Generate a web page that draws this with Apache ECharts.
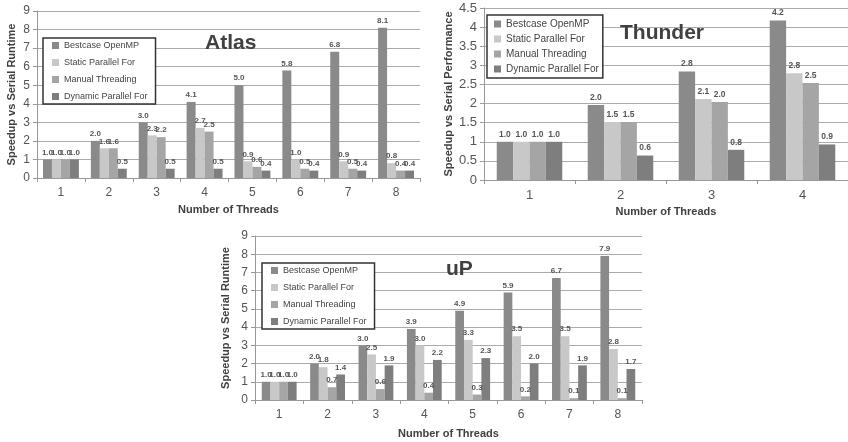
<!DOCTYPE html>
<html>
<head>
<meta charset="utf-8">
<script src="https://cdn.jsdelivr.net/npm/echarts@6/dist/echarts.min.js"></script>
<style>
html,body{margin:0;padding:0;background:#fff;}
#c{width:848px;height:442px;}
</style>
</head>
<body>
<div id="c"></div>
<script>
// ---- Data ----
const seriesNames = ['Bestcase OpenMP', 'Static Parallel For', 'Manual Threading', 'Dynamic Parallel For'];

const atlasThreads = ['1', '2', '3', '4', '5', '6', '7', '8'];
const atlasBestcase = [1.0, 2.0, 3.0, 4.1, 5.0, 5.8, 6.8, 8.1];
const atlasStatic   = [1.0, 1.6, 2.3, 2.7, 0.9, 1.0, 0.9, 0.8];
const atlasManual   = [1.0, 1.6, 2.2, 2.5, 0.6, 0.5, 0.5, 0.4];
const atlasDynamic  = [1.0, 0.5, 0.5, 0.5, 0.4, 0.4, 0.4, 0.4];

const thunderThreads = ['1', '2', '3', '4'];
const thunderBestcase = [1.0, 1.96, 2.84, 4.17];
const thunderStatic   = [1.0, 1.52, 2.12, 2.79];
const thunderManual   = [1.0, 1.52, 2.04, 2.54];
const thunderDynamic  = [1.0, 0.64, 0.79, 0.93];

const upThreads = ['1', '2', '3', '4', '5', '6', '7', '8'];
const upBestcase = [1.0, 2.0, 3.0, 3.9, 4.9, 5.9, 6.7, 7.9];
const upStatic   = [1.0, 1.8, 2.5, 3.0, 3.3, 3.5, 3.5, 2.8];
const upManual   = [1.0, 0.7, 0.6, 0.4, 0.3, 0.2, 0.1, 0.1];
const upDynamic  = [1.0, 1.4, 1.9, 2.2, 2.3, 2.0, 1.9, 1.7];

const chartTitles = ['Atlas', 'Thunder', 'uP'];
const yTitles = ['Speedup vs Serial Runtime', 'Speedup vs Serial Performance', 'Speedup vs Serial Runtime'];
const xTitle = 'Number of Threads';

// ---- Styles ----
const colors = ['#8a8a8a', '#c8c8c8', '#a5a5a5', '#7e7e7e'];
const FONT = 'Liberation Sans, Arial, sans-serif';

const chart = echarts.init(document.getElementById('c'), null, {renderer: 'canvas'});

const grids = [
  {left: 37, right: 428, top: 11, height: 167},
  {left: 484, right: -4, top: 8, height: 172},
  {left: 255, right: 206, top: 236, height: 164}
];
const yMax = [9, 4.5, 9];
const yInt = [1, 0.5, 1];
const yGap = [20, 30, 24];
const xGap = [26, 26, 28];
const labelSize = [12, 13, 12];
const dataLabelSize = [8, 8.5, 8];
const cats = [atlasThreads, thunderThreads, upThreads];
const vals = [
  [atlasBestcase, atlasStatic, atlasManual, atlasDynamic],
  [thunderBestcase, thunderStatic, thunderManual, thunderDynamic],
  [upBestcase, upStatic, upManual, upDynamic]
];
const catGap = ['25%', '28%', '28%'];

const xAxes = [], yAxes = [], series = [];
for (let g = 0; g < 3; g++) {
  xAxes.push({
    type: 'category', gridIndex: g, data: cats[g],
    name: xTitle, nameLocation: 'middle', nameGap: xGap[g],
    nameTextStyle: {fontFamily: FONT, fontWeight: 'bold', fontSize: 11, color: '#404040'},
    axisLine: {lineStyle: {color: '#999', width: 1}},
    axisTick: {show: true, length: 4, lineStyle: {color: '#999'}},
    axisLabel: {fontFamily: FONT, fontSize: labelSize[g], color: '#555', margin: 9}
  });
  yAxes.push({
    type: 'value', gridIndex: g, min: 0, max: yMax[g], interval: yInt[g],
    name: yTitles[g], nameLocation: 'middle', nameGap: yGap[g],
    nameTextStyle: {fontFamily: FONT, fontWeight: 'bold', fontSize: 11, color: '#404040'},
    axisLine: {show: true, lineStyle: {color: '#999', width: 1}},
    axisTick: {show: true, length: 4, lineStyle: {color: '#999'}},
    axisLabel: {fontFamily: FONT, fontSize: labelSize[g], color: '#555', margin: 7},
    splitLine: {show: true, lineStyle: {color: '#ababab', width: 1.2}}
  });
  for (let s = 0; s < 4; s++) {
    series.push({
      type: 'bar', name: seriesNames[s], xAxisIndex: g, yAxisIndex: g,
      data: vals[g][s],
      barGap: '0%', barCategoryGap: catGap[g],
      itemStyle: {color: colors[s]},
      label: {
        show: true, position: 'top', distance: 3,
        fontFamily: FONT, fontWeight: 'bold', fontSize: dataLabelSize[g], color: '#555',
        formatter: p => p.value.toFixed(1)
      },
      animation: false
    });
  }
}

const legendBase = {
  orient: 'vertical', icon: 'rect', itemWidth: 7, itemHeight: 7,
  backgroundColor: '#fff', borderColor: '#333', borderWidth: 1.5,
  selectedMode: false, data: seriesNames
};
const legends = [
  Object.assign({}, legendBase, {left: 43, top: 38, itemGap: 6, padding: [2, 8, 2, 9],
    textStyle: {fontFamily: FONT, fontSize: 9, color: '#444', lineHeight: 11}}),
  Object.assign({}, legendBase, {left: 487, top: 15, itemGap: 3, padding: [3, 4, 3, 7],
    textStyle: {fontFamily: FONT, fontSize: 10, color: '#444', lineHeight: 12}}),
  Object.assign({}, legendBase, {left: 262, top: 263, itemGap: 6, padding: [2, 8, 2, 9],
    textStyle: {fontFamily: FONT, fontSize: 9, color: '#444', lineHeight: 11}})
];

const titleStyle = {fontFamily: FONT, fontWeight: 'bold', fontSize: 21, color: '#404040'};
const titles = [
  {text: chartTitles[0], left: 205, top: 33, padding: 0, textStyle: titleStyle},
  {text: chartTitles[1], left: 620, top: 23, padding: 0, textStyle: titleStyle},
  {text: chartTitles[2], left: 446, top: 259, padding: 0, textStyle: titleStyle}
];

chart.setOption({
  animation: false,
  title: titles,
  legend: legends,
  grid: grids,
  xAxis: xAxes,
  yAxis: yAxes,
  series: series
});
</script>
</body>
</html>
